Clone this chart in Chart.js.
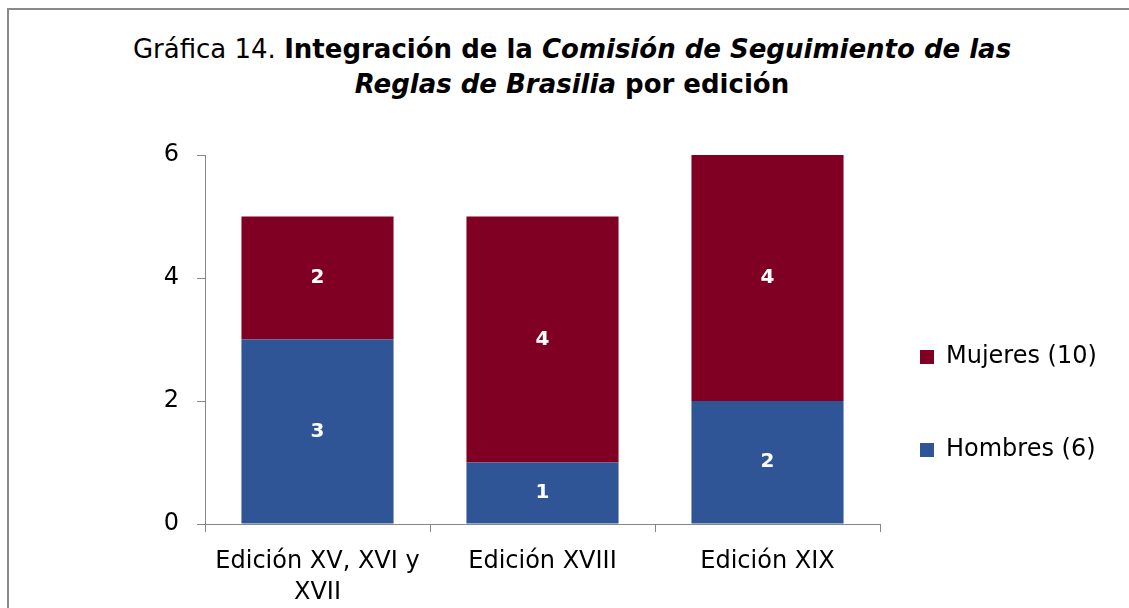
<!DOCTYPE html>
<html>
<head>
<meta charset="utf-8">
<script src="https://cdn.jsdelivr.net/npm/chart.js@4"></script>
<style>
    html, body { margin: 0; padding: 0; background: #fff; overflow: hidden; }
    body { width: 1129px; height: 608px; position: relative; font-family: "DejaVu Sans", sans-serif; }
    .frame {
        position: absolute; left: 7px; top: 8px; width: 1200px; height: 700px;
        border-top: 2px solid #8a8a8a; border-left: 2px solid #8a8a8a;
    }
    .title {
        position: absolute; left: 72px; width: 1000px; top: 32px;
        text-align: center; font-size: 26px; line-height: 35px; color: #000;
    }
    .chart-box { position: absolute; left: 0; top: 0; width: 1129px; height: 608px; }
</style>
</head>
<body>
<div class="frame"></div>
<div class="title">Gráfica 14. <b>Integración de la <i>Comisión de Seguimiento de las</i></b><br><b><i>Reglas de Brasilia</i> por edición</b></div>
<div class="chart-box"><canvas id="chart"></canvas></div>
<script>
// Chart data
const categories = [['Edición XV, XVI y', 'XVII'], 'Edición XVIII', 'Edición XIX'];
const hombres = [3, 1, 2];
const mujeres = [2, 4, 4];
const seriesLabels = ['Hombres (6)', 'Mujeres (10)'];
const yTicks = [0, 2, 4, 6];

const BLUE = '#2f5597';
const RED = '#7f0022';
const AXIS = '#868686';

// Draws the value in the middle of each stacked segment
const segmentLabels = {
    id: 'segmentLabels',
    afterDatasetsDraw(chart) {
        const ctx = chart.ctx;
        ctx.save();
        ctx.fillStyle = '#ffffff';
        ctx.font = 'bold 20px "DejaVu Sans"';
        ctx.textAlign = 'center';
        ctx.textBaseline = 'middle';
        chart.data.datasets.forEach((ds, i) => {
            chart.getDatasetMeta(i).data.forEach((bar, j) => {
                const midY = (bar.y + bar.base) / 2;
                ctx.fillText(String(ds.data[j]), bar.x, midY);
            });
        });
        ctx.restore();
    }
};

// Nudge the legend box: closer to the plot and a bit lower
const legendOffset = {
    id: 'legendOffset',
    afterLayout(chart) {
        const lg = chart.legend;
        const dx = -29, dy = 22;
        lg.left += dx;
        lg.right = chart.width;
        lg.width = lg.right - lg.left;
        lg.top += dy; lg.bottom += dy;
    }
};

document.addEventListener('DOMContentLoaded', () => {
    new Chart(document.getElementById('chart'), {
        type: 'bar',
        data: {
            labels: categories,
            datasets: [
                { label: seriesLabels[0], data: hombres, backgroundColor: BLUE },
                { label: seriesLabels[1], data: mujeres, backgroundColor: RED }
            ]
        },
        options: {
            responsive: true,
            maintainAspectRatio: false,
            animation: false,
            events: [],
            layout: { padding: { top: 155, left: 160, bottom: 0, right: 9 } },
            datasets: { bar: { categoryPercentage: 1, barPercentage: 0.676 } },
            plugins: {
                title: { display: false },
                tooltip: { enabled: false },
                legend: {
                    position: 'right',
                    reverse: true,
                    labels: {
                        boxWidth: 14, boxHeight: 14, padding: 69, textAlign: 'left',
                        color: '#000', font: { family: 'DejaVu Sans', size: 24 }
                    }
                }
            },
            scales: {
                x: {
                    stacked: true,
                    grid: { offset: true, drawOnChartArea: false, drawTicks: true, tickLength: 8, color: AXIS },
                    border: { color: AXIS, width: 1 },
                    ticks: { color: '#000', maxRotation: 0, font: { family: 'DejaVu Sans', size: 24, lineHeight: 1.3 }, padding: 14 },
                    afterFit(scale) { scale.height = 84; }
                },
                y: {
                    stacked: true,
                    min: 0, max: 6,
                    afterBuildTicks(scale) { scale.ticks = yTicks.map(v => ({ value: v })); },
                    grid: { drawOnChartArea: false, drawTicks: true, tickLength: 8, color: AXIS },
                    border: { color: AXIS, width: 1 },
                    ticks: { color: '#000', font: { family: 'DejaVu Sans', size: 24 }, padding: 18 },
                    afterFit(scale) { scale.width = 45; }
                }
            }
        },
        plugins: [segmentLabels, legendOffset]
    });
});
</script>
</body>
</html>
